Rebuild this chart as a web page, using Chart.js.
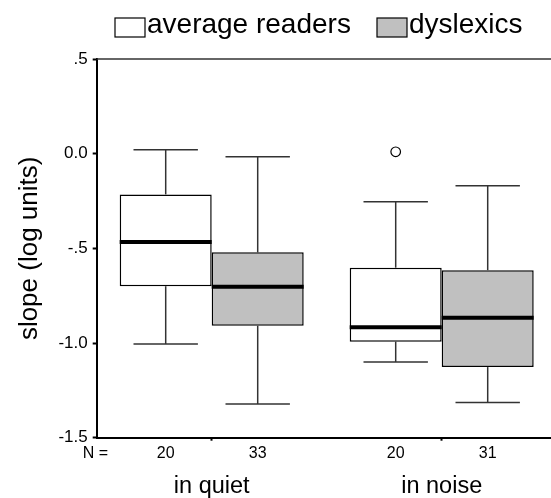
<!DOCTYPE html>
<html>
<head>
<meta charset="utf-8">
<script src="https://cdn.jsdelivr.net/npm/chart.js@4"></script>
<style>
  html, body { margin: 0; padding: 0; background: #fff; overflow: hidden; }
  #wrap { width: 560px; height: 498px; }
</style>
</head>
<body>
<div id="wrap"><canvas id="chart" width="560" height="498"></canvas></div>
<script>
const categories = ['in quiet', 'in noise'];
const seriesNames = ['average readers', 'dyslexics'];
const seriesColors = ['#ffffff', '#c0c0c0'];

// box plot summaries, one value per category
const avgMin = [-1.005, -1.10];
const avgQ1 = [-0.70, -0.993];
const avgMedian = [-0.467, -0.917];
const avgQ3 = [-0.215, -0.602];
const avgMax = [0.021, -0.254];
const avgOutliers = [[], [0.01]];
const avgN = [20, 20];

const dysMin = [-1.322, -1.314];
const dysQ1 = [-0.909, -1.127];
const dysMedian = [-0.703, -0.866];
const dysQ3 = [-0.521, -0.615];
const dysMax = [-0.016, -0.169];
const dysOutliers = [[], []];
const dysN = [33, 31];

const yTicks = [0.5, 0, -0.5, -1.0, -1.5];
const yTickLabels = ['.5', '0.0', '-.5', '-1.0', '-1.5'];

const FONT = "'Liberation Sans', Arial, sans-serif";

const makeSet = (i, min, q1, median, q3, max, outliers, n) => ({
    label: seriesNames[i],
    data: q1.map((v, k) => [v, q3[k]]),
    backgroundColor: seriesColors[i],
    borderColor: '#000',
    borderWidth: 1.5,
    borderSkipped: false,
    stats: { min, median, max, outliers, n }
});

const line = (ctx, x1, y1, x2, y2) => {
    ctx.beginPath();
    ctx.moveTo(x1, y1);
    ctx.lineTo(x2, y2);
    ctx.stroke();
};

// whiskers, medians, outliers and the N = row
const boxPlot = {
    id: 'boxPlot',
    beforeDatasetsDraw(chart) {
        const { ctx, scales: { y } } = chart;
        ctx.save();
        ctx.strokeStyle = '#333';
        ctx.lineWidth = 1.5;
        chart.data.datasets.forEach((ds, i) => {
            chart.getDatasetMeta(i).data.forEach((bar, k) => {
                const { x, width } = bar.getProps(['x', 'width'], true);
                const cap = width * 0.35;
                const yMax = y.getPixelForValue(ds.stats.max[k]);
                const yMin = y.getPixelForValue(ds.stats.min[k]);
                const yQ3 = y.getPixelForValue(ds.data[k][1]);
                const yQ1 = y.getPixelForValue(ds.data[k][0]);
                line(ctx, x, yMax, x, yQ3);
                line(ctx, x, yQ1, x, yMin);
                line(ctx, x - cap, yMax, x + cap, yMax);
                line(ctx, x - cap, yMin, x + cap, yMin);
            });
        });
        ctx.restore();
    },
    afterDatasetsDraw(chart) {
        const { ctx, chartArea, scales: { y } } = chart;
        ctx.save();
        chart.data.datasets.forEach((ds, i) => {
            chart.getDatasetMeta(i).data.forEach((bar, k) => {
                const { x, width } = bar.getProps(['x', 'width'], true);
                const yMed = y.getPixelForValue(ds.stats.median[k]);
                ctx.strokeStyle = '#000';
                ctx.lineWidth = 4;
                line(ctx, x - width / 2, yMed, x + width / 2, yMed);

                ctx.lineWidth = 1.2;
                ds.stats.outliers[k].forEach(v => {
                    ctx.beginPath();
                    ctx.arc(x, y.getPixelForValue(v), 4.8, 0, Math.PI * 2);
                    ctx.fillStyle = '#fff';
                    ctx.fill();
                    ctx.stroke();
                });

                ctx.fillStyle = '#000';
                ctx.font = '16px ' + FONT;
                ctx.textAlign = 'center';
                ctx.textBaseline = 'middle';
                ctx.fillText(String(ds.stats.n[k]), x, chartArea.bottom + 16);
            });
        });
        ctx.textAlign = 'left';
        ctx.fillText('N =', chartArea.left - 14, chartArea.bottom + 16);

        // top frame line
        ctx.strokeStyle = '#333';
        ctx.lineWidth = 1.5;
        line(ctx, chartArea.left, chartArea.top, chartArea.right, chartArea.top);
        ctx.restore();
    },
    afterDraw(chart) {
        const { ctx } = chart;
        const boxX = [115, 377];
        ctx.save();
        ctx.font = '28px ' + FONT;
        ctx.textBaseline = 'alphabetic';
        ctx.textAlign = 'left';
        chart.data.datasets.forEach((ds, i) => {
            ctx.fillStyle = ds.backgroundColor;
            ctx.fillRect(boxX[i], 18, 30, 19);
            ctx.strokeStyle = '#000';
            ctx.lineWidth = 1.2;
            ctx.strokeRect(boxX[i], 18, 30, 19);
            ctx.fillStyle = '#000';
            ctx.fillText(ds.label, boxX[i] + 32, 33);
        });
        ctx.restore();
    }
};

const chart = new Chart(document.getElementById('chart'), {
    type: 'bar',
    data: {
        labels: categories,
        datasets: [
            makeSet(0, avgMin, avgQ1, avgMedian, avgQ3, avgMax, avgOutliers, avgN),
            makeSet(1, dysMin, dysQ1, dysMedian, dysQ3, dysMax, dysOutliers, dysN)
        ]
    },
    options: {
        responsive: false,
        animation: false,
        layout: { padding: { top: 59, right: 3.3, left: 0, bottom: 0 } },
        datasets: { bar: { categoryPercentage: 0.8, barPercentage: 1.0 } },
        plugins: {
            legend: { display: false },
            tooltip: { enabled: false }
        },
        scales: {
            x: {
                grid: { drawOnChartArea: false, offset: false, tickLength: 3, tickWidth: 2, tickColor: '#000' },
                border: { color: '#000', width: 2 },
                ticks: { color: '#000', padding: 31.6, font: { family: FONT, size: 23.5, lineHeight: 1.2 } },
                afterFit: s => { s.height = 60.3; }
            },
            y: {
                min: -1.5,
                max: 0.5,
                afterBuildTicks: s => { s.ticks = yTicks.map(v => ({ value: v })); },
                grid: { drawOnChartArea: false, tickLength: 4, tickWidth: 2, tickColor: '#000' },
                border: { color: '#000', width: 2 },
                ticks: {
                    color: '#000',
                    padding: 5,
                    font: { family: FONT, size: 17 },
                    callback: v => yTickLabels[yTicks.indexOf(v)]
                },
                title: {
                    display: true,
                    text: 'slope (log units)',
                    color: '#000',
                    font: { family: FONT, size: 26, lineHeight: 1.2 },
                    padding: { top: 14.4, bottom: 0 }
                },
                afterFit: s => { s.width = 96.7; }
            }
        }
    },
    plugins: [boxPlot]
});
</script>
</body>
</html>
